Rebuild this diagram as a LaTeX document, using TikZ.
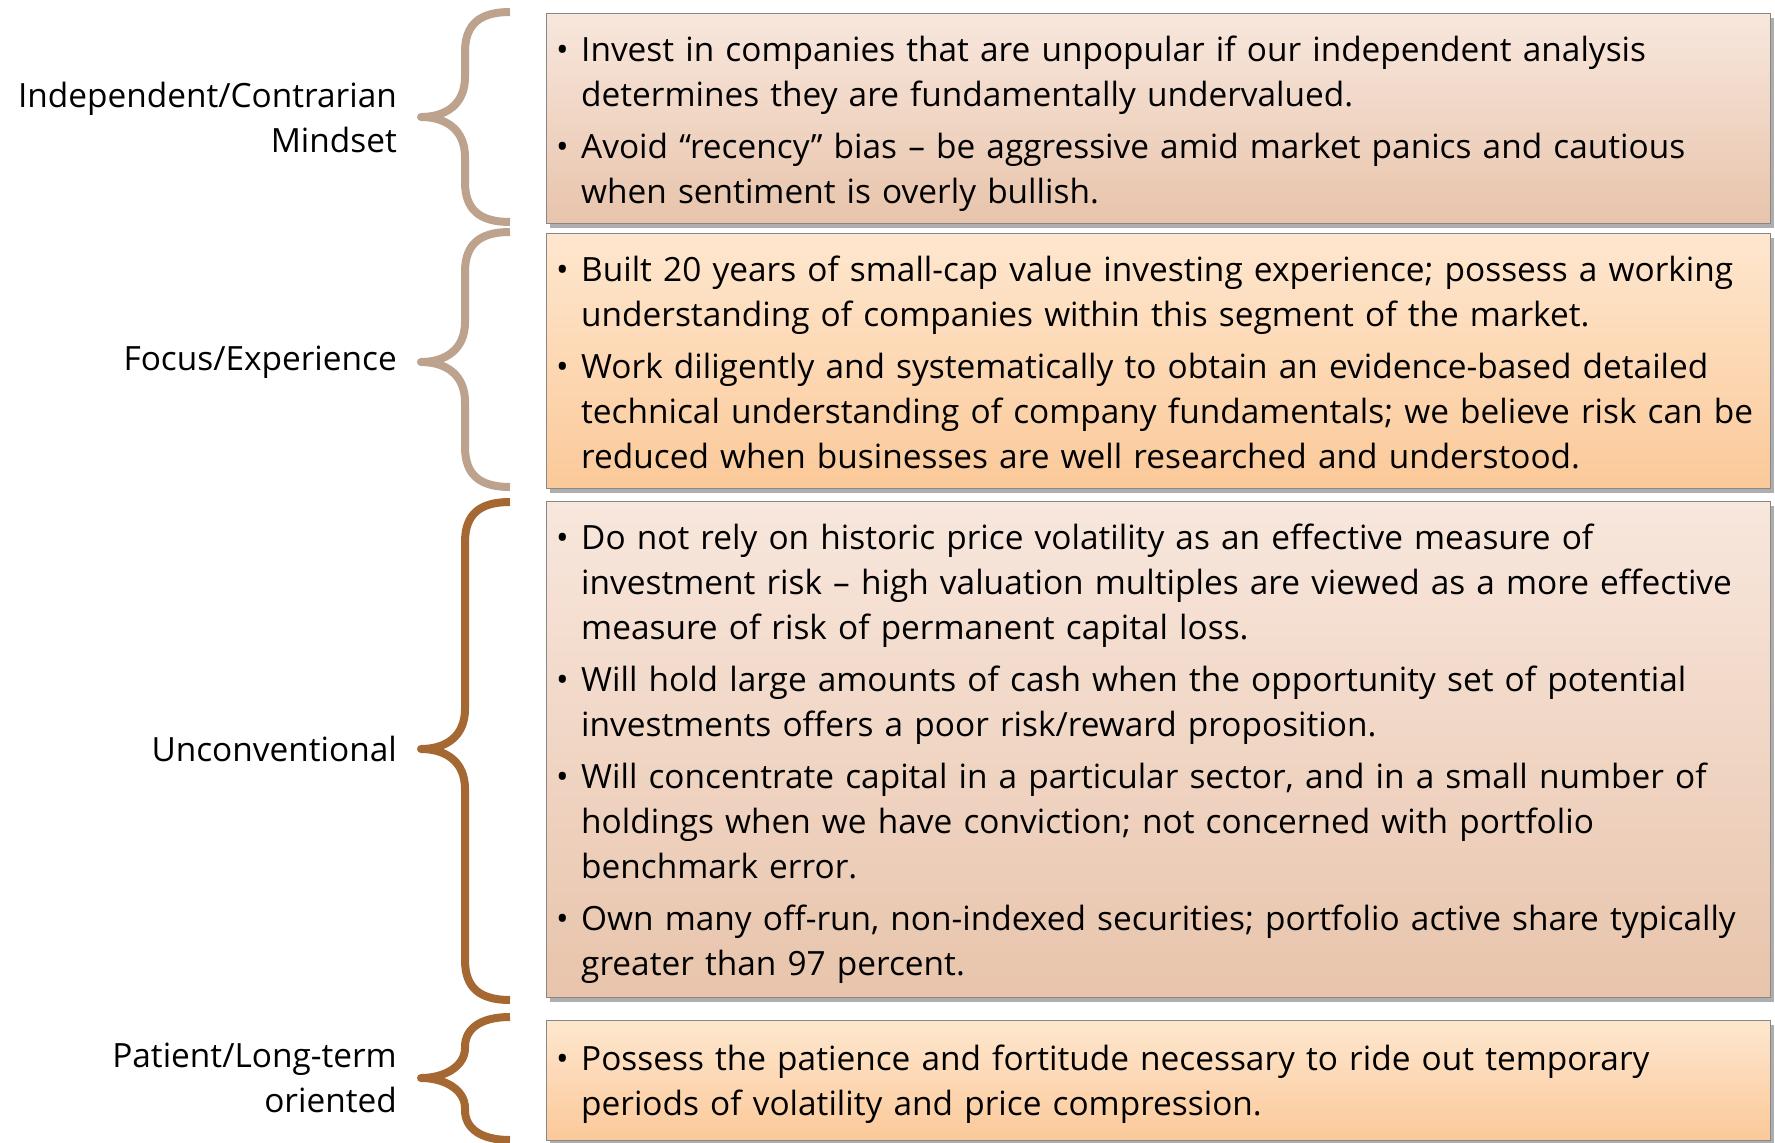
\documentclass[tikz,border=0pt]{standalone}
\usepackage{fontspec}
\setmainfont{Open Sans}
\usetikzlibrary{shadows}

\definecolor{bracetan}{RGB}{189,162,142}
\definecolor{bracebrown}{RGB}{166,104,50}
\definecolor{pinktop}{RGB}{248,231,221}
\definecolor{pinkbot}{RGB}{232,196,171}
\definecolor{peachtop}{RGB}{254,231,207}
\definecolor{peachbot}{RGB}{251,201,153}
\definecolor{boxline}{RGB}{135,135,135}

\newcommand{\bitem}{\par\hangindent=25pt\hangafter=1\noindent\makebox[25pt][l]{\textbullet}\strut}

\tikzset{
	box/.style = {draw = boxline, line width = 1.2pt, minimum width = 1224pt, anchor = north west, inner sep = 0pt,
		drop shadow = {shadow xshift = 3pt, shadow yshift = -4pt, opacity = 0.45, fill = black!70}},
	pinkbox/.style = {box, top color = pinktop, bottom color = pinkbot},
	peachbox/.style = {box, top color = peachtop, bottom color = peachbot},
	txt/.style = {anchor = north west, inner sep = 0pt, text width = 1210pt, align = left,
		font = \fontsize{33.4}{45}\selectfont, execute at begin node = \setlength{\parskip}{7pt}},
	lbl/.style = {anchor = east, inner sep = 0pt, align = right, font = \fontsize{33.4}{45}\selectfont},
	curly/.style = {line width = 8pt, line join = round}
}

\begin{document}
\begin{tikzpicture}[x = 1pt, y = -1pt]
	\fill [white] (0,0) rectangle (1775,1143);
	\useasboundingbox (0,0) rectangle (1775,1143);

	\node [pinkbox, minimum height = 210pt] (box1) at (546,13) {};
	\node [peachbox, minimum height = 255pt] (box2) at (546,233) {};
	\node [pinkbox, minimum height = 496pt] (box3) at (546,501) {};
	\node [peachbox, minimum height = 120pt] (box4) at (546,1020) {};

	\node [txt] (txt1) at ([xshift = 10pt, yshift = 4pt] box1.north west) {%
		\bitem Invest in companies that are unpopular if our independent analysis\newline determines they are fundamentally undervalued.
		\bitem Avoid “recency” bias – be aggressive amid market panics and cautious\newline when sentiment is overly bullish.\par};
	\node [txt] (txt2) at ([xshift = 10pt, yshift = 4pt] box2.north west) {%
		\bitem Built 20 years of small-cap value investing experience; possess a working\newline understanding of companies within this segment of the market.
		\bitem Work diligently and systematically to obtain an evidence-based detailed\newline technical understanding of company fundamentals; we believe risk can be\newline reduced when businesses are well researched and understood.\par};
	\node [txt] (txt3) at ([xshift = 10pt, yshift = 4pt] box3.north west) {%
		\bitem Do not rely on historic price volatility as an effective measure of\newline investment risk – high valuation multiples are viewed as a more effective\newline measure of risk of permanent capital loss.
		\bitem Will hold large amounts of cash when the opportunity set of potential\newline investments offers a poor risk/reward proposition.
		\bitem Will concentrate capital in a particular sector, and in a small number of\newline holdings when we have conviction; not concerned with portfolio\newline benchmark error.
		\bitem Own many off-run, non-indexed securities; portfolio active share typically\newline greater than 97 percent.\par};
	\node [txt] (txt4) at ([xshift = 10pt, yshift = 2pt] box4.north west) {%
		\bitem Possess the patience and fortitude necessary to ride out temporary\newline periods of volatility and price compression.\par};

	\node [lbl] (lab1) at (397,117) {Independent/Contrarian\\Mindset};
	\node [lbl] (lab2) at (397,362) {Focus/Experience};
	\node [lbl] (lab3) at (397,749) {Unconventional};
	\node [lbl] (lab4) at (397,1078) {Patient/Long-term\\oriented};

	\foreach \ya/\yt/\yb/\r/\c in {12/117/222/40/bracetan, 232/362/487/40/bracetan, 502/749/1000/40/bracebrown, 1017/1078/1140/30/bracebrown}
		\draw [curly, \c] (510,\ya) .. controls (480,\ya) and (465,\ya+12) .. (465,\ya+\r) -- (465,\yt-\r)
			.. controls (465,\yt-12) and (445,\yt) .. (421,\yt) .. controls (445,\yt) and (465,\yt+12) .. (465,\yt+\r)
			-- (465,\yb-\r) .. controls (465,\yb-12) and (480,\yb) .. (510,\yb);
\end{tikzpicture}
\end{document}
